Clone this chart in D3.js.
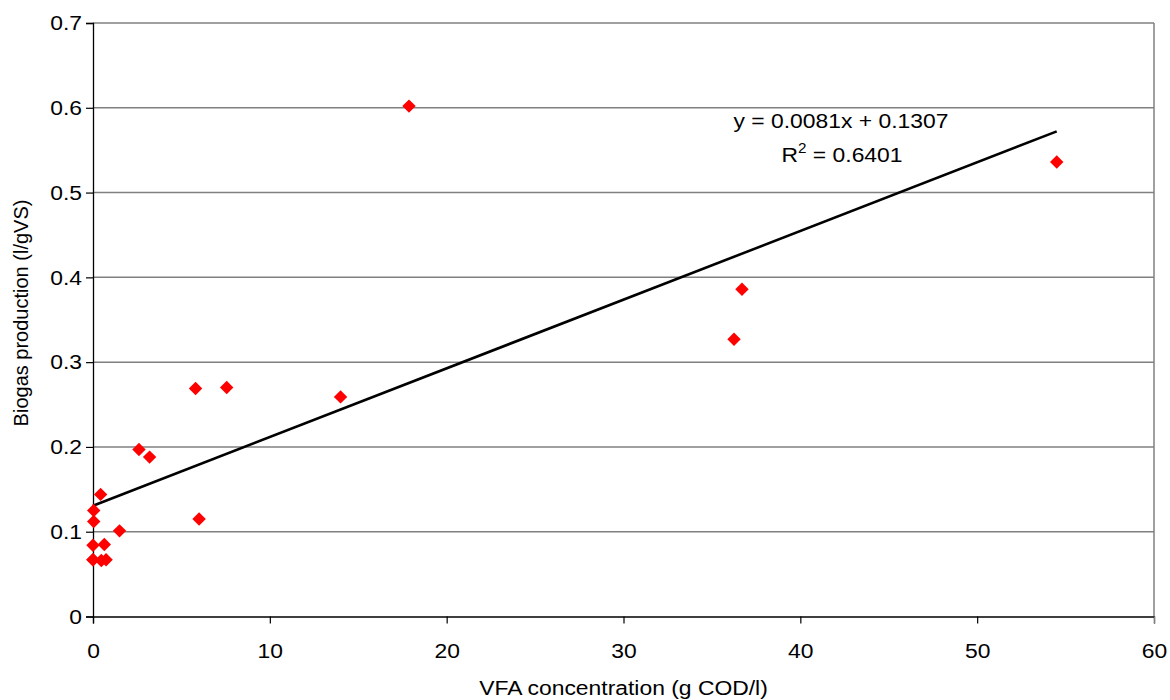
<!DOCTYPE html>
<html>
<head>
<meta charset="utf-8">
<script src="https://cdn.jsdelivr.net/npm/d3@7"></script>
<style>
  html, body { margin: 0; padding: 0; background: #fff; }
  svg { display: block; font-family: "Liberation Sans", Arial, sans-serif; }
</style>
</head>
<body>
<svg id="chart" width="1170" height="700"></svg>
<script>
// VFA concentration (g COD/l) vs biogas production (l/gVS)
const vfa    = [0.0, 0.0, 0.04, 0.04, 0.0, 0.47, 0.74, 0.64, 0.43, 1.5, 2.6, 3.2, 5.8, 6.0, 7.56, 14.0, 17.87, 36.25, 36.7, 54.5];
const biogas = [0.067, 0.084, 0.125, 0.112, 0.067, 0.066, 0.067, 0.085, 0.144, 0.101, 0.197, 0.188, 0.269, 0.115, 0.270, 0.259, 0.602, 0.327, 0.386, 0.536];

// Linear trend line
const slope = 0.0081;
const intercept = 0.1307;
const rSquared = "0.6401";

const xTicks = [0, 10, 20, 30, 40, 50, 60];
const yTicks = [0, 0.1, 0.2, 0.3, 0.4, 0.5, 0.6, 0.7];

const plotLeft = 93, plotRight = 1154, plotTop = 23, plotBottom = 616.5;
const fontSize = 21;       // base text size
const stretchX = 1.09;     // horizontal text is slightly widened

const x = d3.scaleLinear().domain([0, 60]).range([plotLeft, plotRight]);
const y = d3.scaleLinear().domain([0, 0.7]).range([plotBottom, plotTop]);

const svg = d3.select("#chart");

// horizontal gridlines
svg.append("g")
  .selectAll("line")
  .data(yTicks.slice(1))
  .join("line")
  .attr("x1", plotLeft).attr("x2", plotRight)
  .attr("y1", d => y(d)).attr("y2", d => y(d))
  .attr("stroke", "#808080").attr("stroke-width", 1.5);

// right border of plot area
svg.append("line")
  .attr("x1", plotRight).attr("x2", plotRight)
  .attr("y1", plotTop).attr("y2", plotBottom)
  .attr("stroke", "#808080").attr("stroke-width", 1.5);

// axes
const xAxis = svg.append("g")
  .attr("transform", `translate(0,${plotBottom})`)
  .call(d3.axisBottom(x).tickValues(xTicks).tickSize(7).tickPadding(19.5).tickFormat(d3.format("d")));
const yAxis = svg.append("g")
  .attr("transform", `translate(${plotLeft},0)`)
  .call(d3.axisLeft(y).tickValues(yTicks).tickSize(7).tickPadding(11).tickFormat(d => d === 0 ? "0" : d3.format(".1f")(d)));

[xAxis, yAxis].forEach(g => {
  g.select(".domain").attr("stroke", "#000").attr("stroke-width", 1.3);
  g.selectAll(".tick line").attr("stroke", "#000").attr("stroke-width", 1.2);
  g.selectAll(".tick text")
    .attr("fill", "#000")
    .attr("transform", `scale(${stretchX},1)`)
    .style("font-size", fontSize + "px")
    .style("font-family", "'Liberation Sans', Arial, sans-serif");
});
// y labels: keep right edge at the padding after widening
yAxis.selectAll(".tick text").attr("x", -11 / stretchX);
// x tick at 60 sits on the gray border
xAxis.selectAll(".tick line").filter(d => d === 60).attr("stroke", "#808080");

// trend line over the data range
const xMax = d3.max(vfa);
svg.append("line")
  .attr("x1", x(0)).attr("y1", y(intercept))
  .attr("x2", x(xMax)).attr("y2", y(slope * xMax + intercept))
  .attr("stroke", "#000").attr("stroke-width", 2.6);

// data markers (diamonds)
const diamond = d3.symbol().type(d3.symbolSquare).size(90);
svg.append("g")
  .selectAll("path")
  .data(vfa.map((v, i) => [v, biogas[i]]))
  .join("path")
  .attr("d", diamond)
  .attr("transform", d => `translate(${x(d[0])},${y(d[1])}) rotate(45)`)
  .attr("fill", "#ff0000");

// helper for widened horizontal text
function hText(px, py) {
  return svg.append("g")
    .attr("transform", `translate(${px},${py}) scale(${stretchX},1)`)
    .append("text")
    .attr("text-anchor", "middle")
    .attr("fill", "#000")
    .style("font-size", fontSize + "px");
}

// equation label
hText(841, 128).text(`y = ${slope}x + ${intercept}`);
const r2 = hText(842, 162);
r2.append("tspan").text("R");
r2.append("tspan").attr("dy", -9).style("font-size", "14px").text("2");
r2.append("tspan").attr("dy", 9).text(` = ${rSquared}`);

// axis titles
hText((plotLeft + plotRight) / 2, 695).text("VFA concentration (g COD/l)");
svg.append("text")
  .attr("transform", `translate(28,313) rotate(-90)`)
  .attr("text-anchor", "middle")
  .attr("fill", "#000")
  .style("font-size", "20px")
  .text("Biogas production (l/gVS)");
</script>
</body>
</html>
